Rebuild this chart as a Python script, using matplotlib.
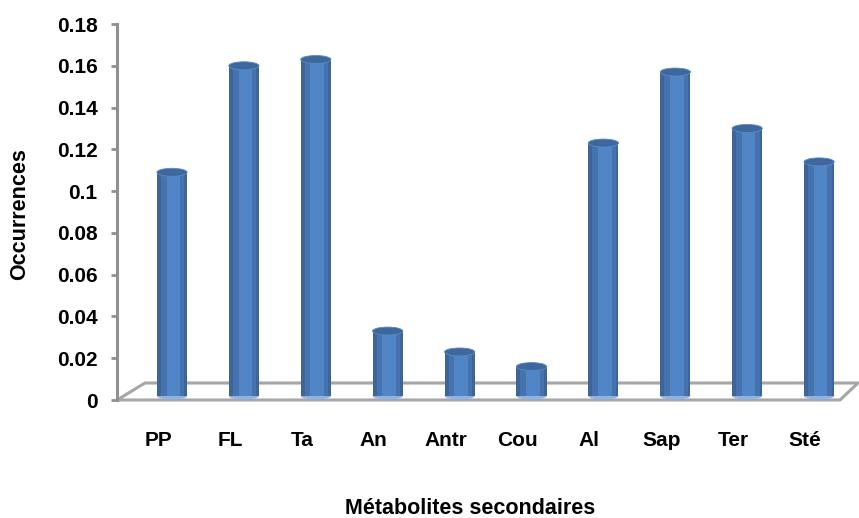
import matplotlib.pyplot as plt
from matplotlib.patches import Ellipse, Polygon
import numpy as np

categories = ["PP", "FL", "Ta", "An", "Antr", "Cou", "Al", "Sap", "Ter", "Sté"]
occurrences = [0.109, 0.160, 0.163, 0.033, 0.023, 0.016, 0.123, 0.157, 0.130, 0.114]
y_ticks = [0, 0.02, 0.04, 0.06, 0.08, 0.1, 0.12, 0.14, 0.16, 0.18]
y_tick_labels = ["0", "0.02", "0.04", "0.06", "0.08", "0.1", "0.12", "0.14", "0.16", "0.18"]

plt.rcParams['font.family'] = ['Liberation Sans', 'DejaVu Sans']

W, H = 859, 518
fig = plt.figure(figsize=(W / 100, H / 100), dpi=100)
left, right, top, bottom = 117, 858, 24, 400
ax = fig.add_axes([left / W, 1 - bottom / H, (right - left) / W, (bottom - top) / H])

px_per_unit = 71.9
xmin = -(172 - left) / px_per_unit
xmax = xmin + (right - left) / px_per_unit
ax.set_xlim(xmin, xmax)
ax.set_ylim(0, 0.18)

x = np.arange(len(categories))
w = 0.42
ypx = 0.18 / (bottom - top)  # data units per pixel

# floor of the 3D plot
depth = 17 * ypx
dx = 28 / px_per_unit
floor = Polygon([(xmin, 0), (xmin + dx, depth), (xmax, depth), (xmax - 18 / px_per_unit, 0)],
                closed=True, facecolor="none", edgecolor="#A6A6A6", lw=2.2, zorder=1,
                clip_on=False)
ax.add_patch(floor)

base = 4 * ypx
for xi, v in zip(x, occurrences):
    h = v - base
    ax.bar(xi, h, width=w, bottom=base, color="#3D659A", zorder=3)
    ax.bar(xi + 0.01, h, width=w * 0.78, bottom=base, color="#4673AE", zorder=3)
    ax.bar(xi + 0.02, h, width=w * 0.45, bottom=base, color="#5186C6", zorder=3)
    ax.add_patch(Ellipse((xi, base), w, 7 * ypx, facecolor="#8FB4E3", zorder=2.9))
    ax.add_patch(Ellipse((xi, v), w, 8 * ypx, facecolor="#3E679C",
                         edgecolor="#5A8AC6", lw=0.6, zorder=4))

# category labels sit a little left of the bars (perspective)
ax.set_xticks(x - 14 / px_per_unit)
ax.set_xticklabels(categories, fontsize=15, fontweight="bold")
ax.tick_params(axis="x", length=0, pad=22)

ax.set_yticks(y_ticks)
ax.set_yticklabels(y_tick_labels, fontsize=15, fontweight="bold")
ax.tick_params(axis="y", direction="out", length=4, width=2, color="#909090", pad=10)

for s in ["top", "right", "bottom"]:
    ax.spines[s].set_visible(False)
ax.spines["left"].set_color("#909090")
ax.spines["left"].set_linewidth(2.2)

ax.set_ylabel("Occurrences", fontsize=15.5, fontweight="bold")
ax.set_xlabel("Métabolites secondaires", fontsize=15.5, fontweight="bold")
ax.xaxis.set_label_coords((470 - left) / (right - left), -(508 - bottom) / (bottom - top))
ax.yaxis.set_label_coords(-(117 - 20) / (right - left), (bottom - 214) / (bottom - top))
ax.xaxis.label.set_verticalalignment("center")
ax.yaxis.label.set_verticalalignment("center")

fig.savefig("out.png", dpi=100)
